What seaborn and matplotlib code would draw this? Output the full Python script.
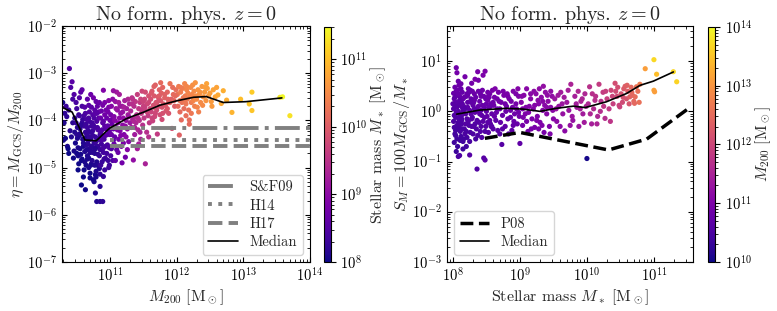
import numpy as np
import matplotlib
matplotlib.use("Agg")
import matplotlib.pyplot as plt
import seaborn as sns
from matplotlib.colors import LogNorm
from matplotlib.cm import ScalarMappable

# ---- left panel: log10 M200, log10 eta, log10 M* (colour) ----
left_logm200 = [
    10.29, 10.31, 10.33, 10.35, 10.36, 10.38, 10.39, 10.40, 10.41, 10.43,
    10.30, 10.34, 10.37, 10.42, 10.44, 10.45, 10.32, 10.44, 10.38, 10.46,
    10.47, 10.48, 10.49, 10.50, 10.51, 10.52, 10.53, 10.54, 10.55, 10.56,
    10.57, 10.58, 10.59, 10.47, 10.50, 10.53, 10.55, 10.58, 10.60, 10.52,
    10.49, 10.51, 10.54, 10.56, 10.59, 10.57, 10.46, 10.60, 10.55, 10.58,
    10.61, 10.62, 10.63, 10.64, 10.65, 10.66, 10.67, 10.68, 10.69, 10.70,
    10.71, 10.72, 10.73, 10.74, 10.75, 10.76, 10.77, 10.78, 10.79, 10.80,
    10.81, 10.82, 10.83, 10.84, 10.85, 10.62, 10.64, 10.66, 10.68, 10.70,
    10.72, 10.74, 10.76, 10.78, 10.80, 10.82, 10.84, 10.63, 10.67, 10.71,
    10.75, 10.79, 10.83, 10.65, 10.69, 10.73, 10.77, 10.81, 10.85, 10.61,
    10.66, 10.70, 10.74, 10.78, 10.82, 10.64, 10.68, 10.72, 10.76, 10.80,
    10.84, 10.62, 10.67, 10.73, 10.79, 10.83, 10.69, 10.75, 10.81, 10.77,
    10.86, 10.87, 10.88, 10.89, 10.90, 10.91, 10.92, 10.93, 10.94, 10.95,
    10.96, 10.97, 10.98, 10.99, 11.00, 11.01, 11.02, 11.03, 11.04, 11.05,
    10.87, 10.89, 10.91, 10.93, 10.95, 10.97, 10.99, 11.01, 11.03, 11.05,
    10.86, 10.88, 10.90, 10.92, 10.94, 10.96, 10.98, 11.00, 11.02, 11.04,
    10.80, 10.85, 10.89, 10.78, 10.85, 10.90, 10.85, 10.92, 10.88, 11.02,
    11.06, 11.07, 11.08, 11.09, 11.10, 11.11, 11.12, 11.13, 11.14, 11.15,
    11.16, 11.17, 11.18, 11.19, 11.20, 11.21, 11.22, 11.23, 11.24, 11.25,
    11.26, 11.27, 11.28, 11.29, 11.30, 11.08, 11.12, 11.16, 11.20, 11.24,
    11.07, 11.11, 11.15, 11.19, 11.23, 11.27, 11.10, 11.18, 11.26, 11.14,
    11.31, 11.32, 11.33, 11.34, 11.35, 11.36, 11.37, 11.38, 11.39, 11.40,
    11.41, 11.42, 11.43, 11.44, 11.45, 11.46, 11.47, 11.48, 11.49, 11.50,
    11.51, 11.52, 11.53, 11.54, 11.55, 11.56, 11.57, 11.58, 11.59, 11.60,
    11.33, 11.38, 11.43, 11.48, 11.53, 11.58, 11.36, 11.46, 11.56, 11.41,
    11.61, 11.62, 11.63, 11.64, 11.65, 11.66, 11.67, 11.68, 11.69, 11.70,
    11.71, 11.72, 11.73, 11.74, 11.75, 11.76, 11.77, 11.78, 11.79, 11.80,
    11.82, 11.84, 11.86, 11.88, 11.90, 11.92, 11.93, 11.95, 11.97, 11.99,
    11.63, 11.68, 11.73, 11.78, 11.83, 11.88, 11.66, 11.76, 11.86, 11.96,
    12.01, 12.02, 12.03, 12.04, 12.05, 12.06, 12.07, 12.08, 12.09, 12.10,
    12.11, 12.12, 12.13, 12.14, 12.15, 12.16, 12.17, 12.18, 12.19, 12.19,
    12.20, 12.21, 12.22, 12.23, 12.24, 12.25, 12.26, 12.27, 12.28, 12.29,
    12.30, 12.32, 12.34, 12.36, 12.38, 12.40, 12.42, 12.44, 12.46, 12.48,
    12.05, 12.12, 12.22, 12.31, 12.39, 12.45, 12.15, 12.26, 12.35, 12.43,
    12.50, 12.52, 12.55, 12.58, 12.62, 12.67, 12.70, 12.75, 12.83, 12.96,
    13.09, 13.13, 13.13, 13.55, 13.59, 13.70, 12.53, 12.60, 10.90, 11.05,
    10.52, 10.56, 10.60, 10.63, 10.66, 10.69, 10.72, 10.75, 10.78, 10.81,
    10.84, 10.87, 10.90, 10.93, 10.96, 10.99, 11.02, 10.65, 10.71, 10.77,
    10.50, 10.54, 10.58, 10.62, 10.68, 10.74, 10.80, 10.86, 10.92, 10.98,
    10.61, 10.70, 10.79, 10.88, 10.97, 11.06, 11.13, 11.21, 11.28, 11.09,
    11.34, 11.42, 11.50, 11.58, 11.66, 11.74, 11.82, 11.90, 11.98, 12.06,
    11.37, 11.45, 11.52, 11.62, 11.70, 11.79, 11.87, 11.94, 12.14, 12.33,
]
left_logeta = [
    -3.62, -4.05, -4.38, -3.92, -4.55, -3.78, -2.90, -4.22, -3.30, -3.18,
    -4.42, -3.70, -4.60, -4.35, -3.55, -4.80, -3.85, -4.05, -4.70, -3.45,
    -3.95, -4.48, -3.62, -4.70, -4.15, -5.05, -3.88, -4.32, -4.60, -3.40,
    -4.85, -4.05, -4.40, -4.25, -3.75, -4.92, -4.18, -3.70, -5.20, -4.58,
    -4.05, -4.38, -3.52, -4.72, -3.98, -5.37, -4.65, -4.55, -4.28, -3.35,
    -4.12, -4.66, -3.85, -4.95, -4.30, -3.55, -4.50, -4.80, -4.02, -5.12,
    -4.40, -3.72, -4.62, -4.22, -5.26, -3.95, -4.70, -4.35, -3.60, -4.88,
    -4.15, -4.55, -3.82, -5.02, -4.30, -4.38, -4.08, -4.82, -3.68, -4.25,
    -4.92, -3.88, -4.48, -5.15, -4.02, -4.72, -3.62, -5.47, -4.22, -3.45,
    -4.58, -4.45, -4.38, -3.98, -4.60, -4.05, -3.78, -4.95, -4.62, -3.90,
    -4.15, -4.68, -4.32, -3.85, -4.20, -4.52, -5.00, -4.12, -5.30, -4.55,
    -4.40, -4.88, -4.42, -4.85, -5.08, -3.95, -3.82, -3.52, -3.70, -4.15,
    -4.25, -3.80, -4.62, -4.05, -5.19, -4.40, -3.62, -4.80, -4.18, -3.95,
    -4.52, -4.12, -3.72, -4.95, -4.30, -3.88, -4.60, -4.08, -3.55, -4.42,
    -4.50, -3.68, -4.82, -4.32, -4.70, -3.82, -4.22, -4.75, -3.98, -4.18,
    -4.95, -4.20, -4.02, -5.05, -3.78, -4.30, -5.00, -4.00, -3.70, -4.85,
    -5.72, -5.72, -5.72, -5.54, -5.40, -4.58, -5.14, -4.12, -4.35, -4.30,
    -3.92, -4.35, -3.60, -4.15, -4.62, -3.78, -4.05, -4.40, -3.45, -4.22,
    -3.85, -4.55, -3.70, -4.10, -3.95, -4.30, -3.58, -4.78, -4.00, -3.75,
    -4.18, -3.88, -4.45, -3.65, -4.05, -4.85, -4.68, -4.32, -4.48, -4.35,
    -4.00, -4.20, -3.70, -3.82, -4.12, -3.55, -3.40, -4.90, -4.62, -3.95,
    -3.80, -4.15, -3.52, -3.98, -4.84, -3.70, -4.30, -3.60, -4.05, -3.88,
    -3.45, -4.20, -3.75, -4.00, -3.62, -4.40, -3.85, -3.38, -4.10, -3.70,
    -3.95, -3.55, -4.92, -3.80, -4.25, -3.65, -3.90, -3.48, -4.05, -3.75,
    -3.65, -3.92, -4.50, -3.78, -3.40, -4.35, -4.02, -3.55, -3.82, -4.60,
    -3.55, -3.82, -3.38, -4.01, -3.68, -3.48, -3.92, -3.25, -3.62, -3.78,
    -4.29, -3.50, -3.70, -3.35, -3.88, -3.58, -3.42, -3.72, -3.30, -3.65,
    -3.52, -3.80, -3.40, -3.62, -3.22, -3.55, -4.17, -3.45, -3.70, -3.35,
    -3.95, -3.85, -3.58, -3.98, -3.68, -3.85, -3.28, -3.20, -3.75, -3.58,
    -3.45, -3.70, -3.28, -4.31, -3.58, -3.40, -3.99, -3.62, -3.32, -3.52,
    -3.75, -3.22, -3.48, -3.65, -3.35, -3.55, -3.42, -3.78, -3.99, -4.08,
    -3.50, -3.30, -3.62, -3.45, -3.25, -3.58, -3.38, -3.70, -3.20, -3.48,
    -3.55, -3.35, -3.45, -3.62, -3.28, -3.50, -3.40, -3.58, -3.32, -3.48,
    -3.82, -3.60, -3.85, -3.72, -3.68, -3.22, -3.28, -3.52, -3.40, -3.30,
    -3.42, -3.60, -3.35, -3.50, -3.46, -3.64, -3.37, -3.57, -3.83, -3.55,
    -3.65, -3.40, -3.79, -3.51, -3.50, -3.90, -3.70, -3.30, -3.36, -3.37,
    -4.75, -4.10, -4.48, -4.25, -4.75, -4.35, -4.55, -4.10, -4.60, -4.40,
    -4.75, -4.42, -4.68, -4.55, -4.12, -4.58, -4.15, -4.62, -4.95, -4.95,
    -4.30, -3.90, -4.82, -3.72, -3.95, -4.68, -3.85, -3.95, -3.88, -3.58,
    -5.05, -5.22, -5.20, -4.88, -4.85, -4.50, -3.62, -3.72, -3.92, -3.75,
    -3.55, -3.95, -3.60, -3.62, -3.72, -3.48, -3.45, -3.62, -3.48, -3.30,
    -4.15, -4.25, -3.72, -3.42, -3.62, -3.85, -3.55, -3.30, -3.90, -3.82,
]
left_logmstar = [
    8.05, 8.10, 8.02, 8.20, 8.08, 8.25, 8.50, 8.15, 8.45, 8.55,
    8.05, 8.30, 8.00, 8.12, 8.40, 8.02, 8.20, 8.15, 8.00, 8.50,
    8.20, 8.05, 8.40, 8.02, 8.15, 8.00, 8.30, 8.10, 8.05, 8.55,
    8.00, 8.22, 8.10, 8.12, 8.35, 8.02, 8.18, 8.40, 8.00, 8.08,
    8.25, 8.10, 8.50, 8.05, 8.28, 8.00, 8.06, 8.08, 8.16, 8.60,
    8.30, 8.10, 8.45, 8.05, 8.25, 8.60, 8.18, 8.08, 8.35, 8.02,
    8.22, 8.55, 8.15, 8.32, 8.05, 8.45, 8.12, 8.28, 8.65, 8.10,
    8.40, 8.20, 8.60, 8.10, 8.35, 8.15, 8.30, 8.08, 8.55, 8.28,
    8.10, 8.50, 8.25, 8.05, 8.45, 8.20, 8.70, 8.02, 8.25, 8.70,
    8.22, 8.30, 8.35, 8.40, 8.15, 8.38, 8.58, 8.15, 8.28, 8.40,
    8.30, 8.15, 8.28, 8.55, 8.45, 8.18, 8.08, 8.35, 8.05, 8.25,
    8.40, 8.08, 8.22, 8.15, 8.10, 8.55, 8.50, 8.75, 8.65, 8.40,
    8.45, 8.70, 8.30, 8.55, 8.25, 8.42, 8.85, 8.35, 8.55, 8.70,
    8.40, 8.62, 8.85, 8.30, 8.60, 8.80, 8.45, 8.70, 9.00, 8.55,
    8.35, 8.80, 8.28, 8.50, 8.35, 8.80, 8.62, 8.40, 8.78, 8.70,
    8.30, 8.50, 8.60, 8.28, 8.80, 8.55, 8.35, 8.75, 8.95, 8.45,
    8.10, 8.15, 8.20, 8.10, 8.15, 8.40, 8.20, 8.55, 8.48, 8.70,
    8.90, 8.65, 9.10, 8.85, 8.60, 9.05, 8.95, 8.75, 9.25, 8.90,
    9.05, 8.80, 9.15, 9.00, 9.05, 8.90, 9.25, 8.75, 9.10, 9.20,
    9.05, 9.20, 8.95, 9.30, 9.15, 8.60, 8.70, 8.90, 8.85, 9.00,
    8.95, 8.85, 9.15, 9.10, 9.05, 9.35, 9.20, 8.75, 8.95, 9.00,
    9.35, 9.20, 9.50, 9.30, 9.05, 9.45, 9.20, 9.55, 9.35, 9.45,
    9.65, 9.35, 9.55, 9.45, 9.60, 9.30, 9.55, 9.75, 9.45, 9.65,
    9.55, 9.75, 9.30, 9.65, 9.45, 9.75, 9.60, 9.85, 9.55, 9.75,
    9.45, 9.40, 9.25, 9.60, 9.80, 9.45, 9.35, 9.70, 9.70, 9.25,
    9.85, 9.70, 9.95, 9.65, 9.85, 9.95, 9.75, 10.05, 9.85, 9.80,
    9.60, 9.95, 9.85, 10.05, 9.80, 9.95, 10.05, 9.90, 10.10, 9.95,
    10.05, 9.90, 10.10, 10.00, 10.25, 10.05, 9.85, 10.15, 10.00, 10.20,
    9.70, 9.75, 9.90, 9.80, 9.95, 9.90, 10.05, 10.15, 9.95, 10.10,
    10.25, 10.15, 10.35, 10.05, 10.25, 10.35, 10.15, 10.25, 10.40, 10.30,
    10.20, 10.45, 10.35, 10.30, 10.45, 10.35, 10.45, 10.25, 10.20, 10.15,
    10.40, 10.50, 10.35, 10.45, 10.55, 10.45, 10.50, 10.40, 10.60, 10.50,
    10.50, 10.60, 10.55, 10.50, 10.65, 10.60, 10.65, 10.60, 10.70, 10.65,
    10.15, 10.30, 10.30, 10.45, 10.50, 10.75, 10.45, 10.50, 10.60, 10.70,
    10.70, 10.65, 10.75, 10.75, 10.80, 10.80, 10.85, 10.85, 10.90, 11.00,
    11.05, 11.10, 11.05, 11.35, 11.45, 11.30, 10.65, 10.75, 8.90, 9.10,
    8.05, 8.20, 8.12, 8.25, 8.10, 8.25, 8.18, 8.38, 8.15, 8.30,
    8.25, 8.45, 8.35, 8.40, 8.60, 8.45, 8.72, 8.12, 8.08, 8.12,
    8.15, 8.35, 8.05, 8.52, 8.40, 8.15, 8.55, 8.70, 8.75, 8.95,
    8.02, 8.04, 8.08, 8.28, 8.30, 8.70, 9.20, 9.25, 9.15, 9.12,
    9.50, 9.40, 9.70, 9.75, 9.85, 10.00, 10.05, 10.05, 10.15, 10.35,
    9.30, 9.30, 9.65, 9.95, 9.90, 9.85, 10.05, 10.20, 10.20, 10.40,
]

# median curve and literature ratios (left panel)
med_left_m200 = [1.9e10, 2.7e10, 4.2e10, 6.2e10, 9.8e10, 1.78e11, 3.2e11,
                 5.6e11, 1.0e12, 1.8e12, 2.8e12, 5.0e12, 1.1e13, 3.8e13]
med_left_eta = [1.9e-4, 1.5e-4, 3.85e-5, 3.7e-5, 6.8e-5, 1.1e-4, 1.5e-4,
                2.1e-4, 2.6e-4, 3.1e-4, 3.2e-4, 2.4e-4, 2.5e-4, 3.0e-4]
ref_m200_range = [1e11, 1e14]
eta_sf09 = 7.0e-5
eta_h14 = 3.9e-5
eta_h17 = 2.8e-5

# ---- right panel: log10 M*, log10 S_M, log10 M200 (colour) ----
right_logmstar = [
    8.01, 8.02, 8.03, 8.04, 8.05, 8.06, 8.07, 8.08, 8.09, 8.10,
    8.11, 8.12, 8.13, 8.14, 8.15, 8.01, 8.03, 8.05, 8.07, 8.09,
    8.11, 8.13, 8.15, 8.02, 8.04, 8.06, 8.08, 8.10, 8.12, 8.14,
    8.01, 8.03, 8.05, 8.06, 8.07, 8.08, 8.09, 8.12, 8.04, 8.10,
    8.08, 8.10, 8.25, 8.02, 8.14, 8.06, 8.13, 8.00, 8.11, 8.15,
    8.16, 8.17, 8.18, 8.19, 8.20, 8.21, 8.22, 8.23, 8.24, 8.25,
    8.26, 8.27, 8.28, 8.29, 8.30, 8.31, 8.32, 8.33, 8.34, 8.35,
    8.36, 8.37, 8.38, 8.39, 8.40, 8.41, 8.42, 8.43, 8.44, 8.45,
    8.46, 8.47, 8.48, 8.49, 8.50, 8.17, 8.21, 8.25, 8.29, 8.33,
    8.37, 8.41, 8.45, 8.49, 8.19, 8.23, 8.27, 8.31, 8.35, 8.39,
    8.43, 8.47, 8.18, 8.28, 8.38, 8.48, 8.22, 8.32, 8.42, 8.52,
    8.51, 8.52, 8.53, 8.54, 8.55, 8.56, 8.57, 8.58, 8.59, 8.60,
    8.62, 8.64, 8.66, 8.68, 8.70, 8.72, 8.73, 8.74, 8.76, 8.78,
    8.80, 8.82, 8.84, 8.86, 8.88, 8.90, 8.92, 8.94, 8.96, 8.98,
    8.53, 8.57, 8.61, 8.65, 8.69, 8.75, 8.79, 8.83, 8.87, 8.91,
    8.95, 8.99, 8.55, 8.63, 8.71, 8.81, 8.89, 8.97, 9.00, 8.67,
    9.02, 9.04, 9.06, 9.08, 9.10, 9.12, 9.14, 9.16, 9.18, 9.20,
    9.22, 9.24, 9.26, 9.28, 9.30, 9.32, 9.34, 9.36, 9.38, 9.40,
    9.42, 9.44, 9.46, 9.48, 9.50, 9.05, 9.13, 9.21, 9.29, 9.37,
    9.09, 9.17, 9.25, 9.33, 9.41, 9.49, 9.45, 9.03, 9.27, 9.35,
    9.52, 9.55, 9.58, 9.61, 9.64, 9.67, 9.70, 9.73, 9.76, 9.79,
    9.82, 9.85, 9.88, 9.91, 9.94, 9.97, 9.54, 9.60, 9.66, 9.72,
    9.78, 9.84, 9.90, 9.96, 9.63, 9.75, 9.87, 9.99, 9.57, 9.93,
    10.02, 10.04, 10.07, 10.10, 10.13, 10.16, 10.18, 10.21, 10.24, 10.27,
    10.30, 10.33, 10.36, 10.39, 10.42, 10.45, 10.48, 10.49, 10.05, 10.12,
    10.20, 10.28, 10.35, 10.43, 10.08, 10.15, 10.25, 10.38, 10.46, 10.00,
    10.51, 10.53, 10.55, 10.57, 10.59, 10.61, 10.63, 10.64, 10.66, 10.68,
    10.70, 10.71, 10.72, 10.74, 10.76, 10.78, 10.79, 10.54, 10.60, 10.67,
    10.87, 11.00, 11.04, 11.00, 11.01, 11.29, 11.34,
    8.02, 8.04, 8.06, 8.08, 8.10, 8.12, 8.14, 8.16, 8.18, 8.20,
    8.22, 8.24, 8.26, 8.28, 8.30, 8.32, 8.34, 8.36, 8.38, 8.40,
    8.42, 8.44, 8.46, 8.48, 8.50, 8.52, 8.54, 8.56, 8.58, 8.60,
    8.62, 8.66, 8.70, 8.74, 8.78, 8.82, 8.86, 8.90, 8.94, 8.98,
    9.04, 9.10, 9.16, 9.22, 9.28, 9.34, 9.40, 9.46, 8.03, 8.07,
    8.09, 8.13, 8.17, 8.21, 8.27, 8.33, 8.12, 8.05, 8.20, 8.15,
]
right_logsm = [
    0.05, -0.32, 0.28, -0.12, 0.40, -0.55, 0.15, -0.22, 0.33, -0.05,
    -0.40, 0.20, -0.18, 0.08, -0.60, 0.36, -0.45, -0.02, 0.42, -0.30,
    0.12, -0.08, 0.25, -0.62, 0.18, -0.28, 0.00, 0.30, -0.50, -0.35,
    -0.20, 0.10, 0.87, 0.77, -0.70, 0.60, -0.15, 0.45, -0.38, 0.22,
    -0.90, -0.88, -0.87, -0.08, 0.38, 0.32, -0.25, 0.15, -0.58, 0.02,
    0.10, -0.35, 0.69, -0.05, 0.30, -0.52, 0.18, -0.20, 0.38, 0.02,
    -0.42, 0.25, 0.56, -0.12, 0.12, -0.30, 0.35, 0.64, -0.55, 0.05,
    -1.15, 0.79, 0.62, -0.22, 0.20, -0.40, 0.30, -0.08, 0.42, 0.72,
    -0.93, 0.08, -0.97, -0.30, 0.15, 0.28, -0.15, -0.60, 0.40, -0.02,
    -0.48, 0.35, -0.20, 0.25, -0.25, 0.45, -0.05, 0.18, -0.35, 0.00,
    -0.52, -0.12, -0.45, -0.30, 0.10, 0.80, 0.08, 0.22, 0.02, 0.38,
    -0.10, 0.22, -0.42, 0.08, 0.35, -0.25, 0.15, -0.05, 0.42, -0.35,
    0.28, -0.18, 0.05, 0.38, -0.45, 0.18, -0.66, -0.08, 0.32, -0.30,
    0.10, -0.15, 0.25, 0.02, -0.38, 0.40, -0.05, 0.15, -0.25, 0.30,
    0.30, -0.30, 0.12, -0.02, 0.20, 0.40, 0.00, -0.45, 0.20, -0.20,
    0.05, -0.10, -0.18, 0.45, -0.22, 0.35, 0.08, 0.45, -0.64, -0.38,
    0.18, -0.28, 0.32, -0.05, 0.45, -0.40, 0.10, 0.25, -0.15, 0.05,
    -0.32, 0.35, -0.10, 0.15, -0.22, 0.28, 0.02, -0.42, 0.38, -0.05,
    0.20, -0.30, 0.08, 0.30, -0.15, -0.12, -0.02, 0.40, 0.45, 0.12,
    0.08, -0.35, -0.18, -0.28, 0.32, 0.02, -0.45, 0.30, 0.22, 0.50,
    0.25, -0.20, 0.10, 0.38, -0.05, -0.39, 0.18, 0.02, 0.54, -0.18,
    0.30, 0.08, -0.30, 0.20, -0.05, 0.35, 0.05, -0.30, 0.28, 0.42,
    -0.10, 0.15, 0.05, -0.22, 0.15, -0.28, 0.40, 0.10, 0.32, 0.25,
    0.15, 0.49, -0.25, 0.05, 0.30, -0.10, 0.54, 0.20, 0.38, -0.14,
    0.25, 0.05, 0.42, 0.15, 0.56, 0.30, 0.12, 0.09, -0.05, 0.22,
    0.00, 0.40, -0.20, 0.40, 0.35, -0.25, 0.10, 0.30, 0.48, -0.94,
    0.35, 0.18, 0.45, 0.50, 0.25, 0.40, 0.15, 0.29, 0.48, 0.32,
    0.20, 0.16, 0.29, 0.49, 0.40, 0.18, 0.54, 0.28, 0.52, 0.38,
    0.85, 1.03, 0.74, 0.42, 0.39, 0.79, 0.59,
    0.25, -0.48, 0.08, 0.35, -0.10, -0.25, 0.15, -0.55, 0.05, -0.40,
    0.32, -0.28, 0.42, -0.15, -0.45, 0.05, 0.28, -0.18, 0.40, -0.05,
    -0.30, 0.12, 0.30, -0.40, 0.00, -0.22, 0.28, 0.10, -0.30, 0.18,
    -0.10, 0.25, 0.05, -0.35, 0.15, 0.30, -0.12, -0.28, 0.35, -0.02,
    0.05, -0.20, 0.35, 0.12, -0.35, 0.20, 0.08, 0.40, 0.48, -0.35,
    0.52, -0.15, 0.05, 0.35, 0.18, -0.25, 0.55, -0.80, -0.70, -0.75,
]
right_logm200 = [
    10.60, 10.45, 10.70, 10.55, 10.75, 10.40, 10.65, 10.50, 10.72, 10.58,
    10.48, 10.68, 10.52, 10.62, 10.40, 10.75, 10.42, 10.60, 10.80, 10.50,
    10.62, 10.58, 10.70, 10.38, 10.66, 10.48, 10.60, 10.72, 10.42, 10.50,
    10.50, 10.62, 10.85, 10.90, 10.35, 10.80, 10.55, 10.78, 10.45, 10.65,
    10.50, 10.52, 10.60, 10.55, 10.72, 10.70, 10.52, 10.62, 10.40, 10.62,
    10.65, 10.50, 10.90, 10.62, 10.75, 10.45, 10.70, 10.58, 10.78, 10.66,
    10.50, 10.72, 10.88, 10.62, 10.70, 10.55, 10.80, 10.95, 10.45, 10.68,
    10.55, 10.95, 10.92, 10.62, 10.78, 10.55, 10.82, 10.68, 10.85, 10.98,
    10.60, 10.72, 10.65, 10.60, 10.78, 10.75, 10.60, 10.48, 10.82, 10.68,
    10.52, 10.82, 10.65, 10.80, 10.58, 10.82, 10.65, 10.72, 10.55, 10.70,
    10.55, 10.68, 10.50, 10.58, 10.75, 11.00, 10.68, 10.75, 10.70, 10.85,
    10.72, 10.85, 10.60, 10.78, 10.90, 10.65, 10.82, 10.72, 10.95, 10.62,
    10.90, 10.70, 10.80, 10.95, 10.62, 10.88, 10.60, 10.75, 10.95, 10.68,
    10.85, 10.75, 10.95, 10.82, 10.68, 11.02, 10.82, 10.92, 10.75, 11.00,
    10.88, 10.65, 10.82, 10.78, 10.88, 10.98, 10.80, 10.65, 10.92, 10.78,
    10.90, 10.88, 10.70, 11.00, 10.72, 10.98, 10.88, 11.05, 10.70, 10.65,
    11.05, 10.90, 11.10, 11.00, 11.12, 10.88, 11.05, 11.10, 10.98, 11.05,
    10.95, 11.15, 11.02, 11.10, 11.00, 11.15, 11.08, 10.95, 11.20, 11.08,
    11.15, 11.00, 11.12, 11.20, 11.08, 10.98, 11.02, 11.15, 11.18, 11.12,
    11.02, 10.95, 11.00, 11.02, 11.20, 11.12, 11.00, 11.08, 11.12, 11.22,
    11.30, 11.15, 11.25, 11.40, 11.25, 11.15, 11.35, 11.30, 11.50, 11.25,
    11.45, 11.40, 11.30, 11.50, 11.40, 11.55, 11.25, 11.15, 11.38, 11.45,
    11.32, 11.42, 11.45, 11.40, 11.32, 11.25, 11.55, 11.52, 11.35, 11.52,
    11.55, 11.70, 11.45, 11.60, 11.70, 11.55, 11.85, 11.70, 11.85, 11.65,
    11.90, 11.80, 12.00, 11.90, 12.10, 12.05, 11.95, 11.95, 11.55, 11.68,
    11.65, 11.90, 11.75, 12.05, 11.68, 11.50, 11.78, 11.98, 12.10, 10.05,
    12.15, 12.05, 12.25, 12.30, 12.20, 12.30, 12.20, 12.35, 12.45, 12.40,
    12.45, 12.45, 12.50, 12.60, 12.55, 12.55, 12.70, 12.15, 12.35, 12.45,
    13.10, 13.70, 13.45, 13.15, 13.10, 13.70, 13.65,
    10.68, 10.42, 10.60, 10.75, 10.55, 10.50, 10.65, 10.42, 10.62, 10.48,
    10.75, 10.55, 10.80, 10.60, 10.50, 10.66, 10.78, 10.60, 10.82, 10.68,
    10.58, 10.75, 10.82, 10.55, 10.70, 10.66, 10.85, 10.78, 10.62, 10.82,
    10.75, 10.88, 10.80, 10.65, 10.85, 10.95, 10.78, 10.72, 10.98, 10.85,
    11.00, 10.95, 11.12, 11.05, 10.98, 11.10, 11.10, 11.20, 10.80, 10.45,
    10.82, 10.52, 10.60, 10.75, 10.70, 10.55, 10.85, 10.35, 10.40, 10.38,
]

# median curve and Peng et al. (2008) relation (right panel)
med_right_mstar = [1.14e8, 2.5e8, 6.3e8, 1.1e9, 2.0e9, 3.5e9, 6.3e9,
                   9.4e9, 1.95e10, 3.9e10, 6.2e10, 9.8e10, 1.95e11]
med_right_sm = [0.88, 1.06, 1.15, 1.11, 1.0, 1.15, 1.27,
                1.19, 1.55, 2.27, 3.3, 4.0, 6.1]
p08_mstar = [3e8, 1e9, 2.1e10, 7.8e10, 3.1e11]
p08_sm = [0.29, 0.38, 0.17, 0.28, 1.08]

# ---- style ----
sns.set_style("ticks")
plt.rcParams.update({
    "font.family": "serif",
    "font.serif": ["cmr10", "DejaVu Serif"],
    "mathtext.fontset": "cm",
    "axes.unicode_minus": False,
    "axes.formatter.use_mathtext": True,
    "xtick.direction": "in",
    "ytick.direction": "in",
    "xtick.top": True,
    "ytick.right": True,
    "xtick.minor.visible": True,
    "ytick.minor.visible": True,
    "axes.edgecolor": "black",
    "xtick.color": "black",
    "ytick.color": "black",
    "font.size": 11,
    "axes.labelsize": 11.5,
    "xtick.labelsize": 10.5,
    "ytick.labelsize": 10.5,
})

fig = plt.figure(figsize=(7.77, 3.11), dpi=100)
ax1 = fig.add_axes([0.0798, 0.158, 0.319, 0.758])
cax1 = fig.add_axes([0.417, 0.158, 0.0085, 0.755])
ax2 = fig.add_axes([0.575, 0.158, 0.3166, 0.758])
cax2 = fig.add_axes([0.911, 0.158, 0.009, 0.755])

title = r"No form. phys. $z = 0$"
msun = r"[{\rm M}_\odot]"
legend_kw = dict(fontsize=10.5, handlelength=2.0, labelspacing=0.3, borderpad=0.4)

# left panel
norm1 = LogNorm(vmin=1e8, vmax=3e11)
m200 = 10 ** np.array(left_logm200)
eta = 10 ** np.array(left_logeta)
mstar = 10 ** np.array(left_logmstar)
sns.scatterplot(x=m200, y=eta, hue=mstar, hue_norm=norm1, palette="plasma",
                s=14, linewidth=0, legend=False, ax=ax1, zorder=2)
ax1.plot(ref_m200_range, [eta_sf09] * 2, color="gray", lw=2.8, ls="-.", label="S&F09", zorder=3)
ax1.plot(ref_m200_range, [eta_h14] * 2, color="gray", lw=2.8, ls=":", label="H14", zorder=3)
ax1.plot(ref_m200_range, [eta_h17] * 2, color="gray", lw=2.8, ls="--", label="H17", zorder=3)
ax1.plot(med_left_m200, med_left_eta, color="black", lw=1.2, label="Median", zorder=4)
ax1.set_xscale("log")
ax1.set_yscale("log")
ax1.set_xlim(1.9e10, 1e14)
ax1.set_ylim(1e-7, 1e-2)
ax1.set_xlabel(r"$M_{200}\ " + msun + "$", labelpad=2)
ax1.set_ylabel(r"$\eta = M_{\rm GCS}/M_{200}$", labelpad=1)
ax1.set_title(title, fontsize=14.5, pad=3)
ax1.legend(loc="lower right", **legend_kw)
cb1 = fig.colorbar(ScalarMappable(norm=norm1, cmap="plasma"), cax=cax1)
cb1.set_label(r"Stellar mass $M_*\ " + msun + "$", labelpad=1)

# right panel
norm2 = LogNorm(vmin=1e10, vmax=1e14)
ms = 10 ** np.array(right_logmstar)
sm = 10 ** np.array(right_logsm)
mh = 10 ** np.array(right_logm200)
sns.scatterplot(x=ms, y=sm, hue=mh, hue_norm=norm2, palette="plasma",
                s=14, linewidth=0, legend=False, ax=ax2, zorder=2)
ax2.plot(p08_mstar, p08_sm, color="black", lw=2.5, ls="--", label="P08", zorder=3)
ax2.plot(med_right_mstar, med_right_sm, color="black", lw=1.2, label="Median", zorder=4)
ax2.set_xscale("log")
ax2.set_yscale("log")
ax2.set_xlim(8.1e7, 3.8e11)
ax2.set_ylim(1e-3, 50)
ax2.set_xlabel(r"Stellar mass $M_*\ " + msun + "$", labelpad=2)
ax2.set_ylabel(r"$S_M = 100 M_{\rm GCS}/M_*$", labelpad=0)
ax2.set_title(title, fontsize=14.5, pad=3)
ax2.legend(loc="lower left", **legend_kw)
cb2 = fig.colorbar(ScalarMappable(norm=norm2, cmap="plasma"), cax=cax2)
cb2.set_label(r"$M_{200}\ " + msun + "$", labelpad=1)

for cax in (cax1, cax2):
    cax.tick_params(which="both", direction="out", right=True, left=False, labelsize=10.5)

fig.savefig("out.png", dpi=100)
